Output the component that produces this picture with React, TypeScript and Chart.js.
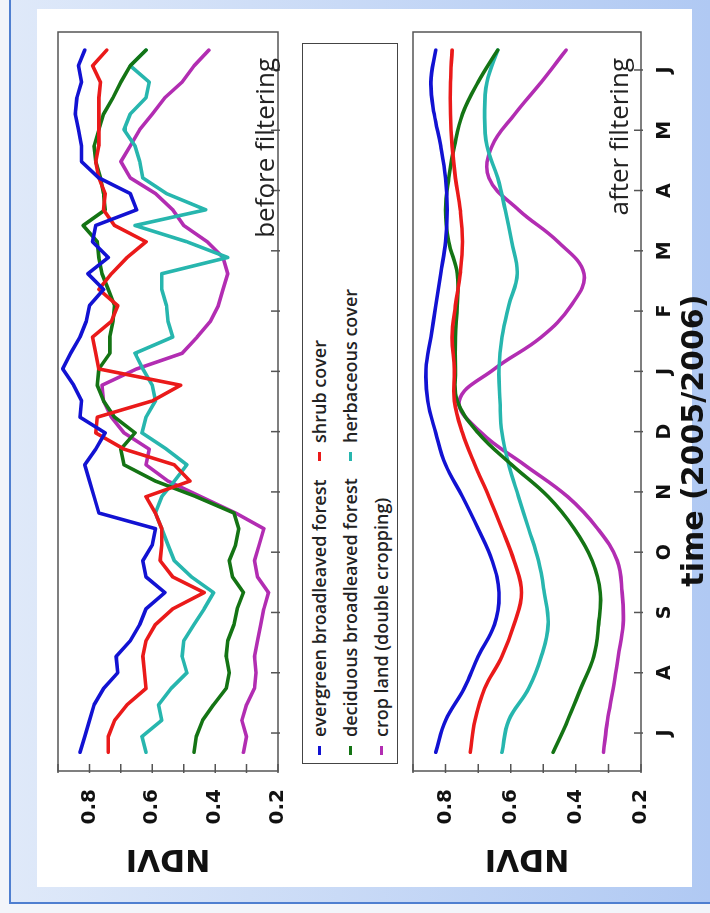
import React, { useEffect, useRef } from 'react';
import { Chart, registerables } from 'chart.js';

Chart.register(...registerables);

// time axis in months from the first July tick (J A S O N D J F M A M J)
const timeRaw = [
  -0.32, -0.06, 0.21, 0.47, 0.74, 1.0, 1.27, 1.53, 1.8, 2.06, 2.33, 2.59, 2.86, 3.12, 3.39,
  3.65, 3.92, 4.18, 4.45, 4.71, 4.98, 5.24, 5.51, 5.77, 6.04, 6.3, 6.57, 6.83, 7.09, 7.36,
  7.62, 7.89, 8.15, 8.42, 8.68, 8.95, 9.21, 9.48, 9.74, 10.01, 10.27, 10.54, 10.8, 11.07, 11.33,
];
const timeSmooth = [
  -0.32, 0.21, 0.74, 1.27, 1.8, 2.33, 2.86, 3.39, 3.92, 4.45, 4.98, 5.51, 6.04, 6.57, 7.09,
  7.62, 8.15, 8.68, 9.21, 9.74, 10.27, 10.8, 11.33,
];
const monthTicks = [0, 1, 2, 3, 4, 5, 6, 7, 8, 9, 10, 11];
const monthLabels = ['J', 'A', 'S', 'O', 'N', 'D', 'J', 'F', 'M', 'A', 'M', 'J'];
const ndviTicks = [0.2, 0.3, 0.4, 0.5, 0.6, 0.7, 0.8, 0.9];
const ndviLabels = ['0.2', '', '0.4', '', '0.6', '', '0.8', ''];
const timeTitle = 'time (2005/2006)';

const seriesNames = [
  'evergreen broadleaved forest',
  'shrub cover',
  'deciduous broadleaved forest',
  'herbaceous cover',
  'crop land (double cropping)',
];
const seriesColors = ['#1212d2', '#ea1a1a', '#147414', '#27b6ae', '#b22db2'];

// before filtering
const rawEvergreen = [
  0.83, 0.815, 0.8, 0.785, 0.755, 0.71, 0.715, 0.67, 0.64, 0.62, 0.56, 0.62, 0.63, 0.6, 0.59,
  0.77, 0.785, 0.8, 0.815, 0.78, 0.75, 0.83, 0.825, 0.85, 0.885, 0.86, 0.83, 0.81, 0.8, 0.755,
  0.805, 0.74, 0.79, 0.78, 0.65, 0.67, 0.77, 0.825, 0.825, 0.835, 0.845, 0.84, 0.825, 0.835, 0.815,
];
const rawShrub = [
  0.74, 0.74, 0.72, 0.68, 0.62, 0.625, 0.63, 0.62, 0.59, 0.535, 0.435, 0.535, 0.575, 0.57, 0.57,
  0.59, 0.62, 0.48, 0.53, 0.69, 0.78, 0.775, 0.6, 0.51, 0.77, 0.78, 0.79, 0.73, 0.71, 0.77,
  0.73, 0.68, 0.62, 0.72, 0.755, 0.75, 0.77, 0.78, 0.77, 0.77, 0.77, 0.77, 0.765, 0.79, 0.745,
];
const rawDeciduous = [
  0.467, 0.46, 0.44, 0.405, 0.365, 0.355, 0.365, 0.36, 0.34, 0.33, 0.31, 0.345, 0.355, 0.335, 0.325,
  0.34, 0.46, 0.59, 0.69, 0.7, 0.655, 0.72, 0.755, 0.775, 0.77, 0.735, 0.735, 0.725, 0.72, 0.74,
  0.76, 0.77, 0.775, 0.82, 0.75, 0.755, 0.765, 0.78, 0.785, 0.77, 0.755, 0.725, 0.7, 0.67, 0.62,
];
const rawHerbaceous = [
  0.62, 0.633, 0.57, 0.58, 0.54, 0.49, 0.505, 0.5, 0.467, 0.435, 0.405, 0.475, 0.53, 0.55, 0.57,
  0.59, 0.57, 0.53, 0.49, 0.555, 0.633, 0.62, 0.59, 0.6, 0.63, 0.655, 0.535, 0.55, 0.555, 0.57,
  0.57, 0.36, 0.49, 0.655, 0.43, 0.555, 0.63, 0.64, 0.655, 0.69, 0.67, 0.62, 0.61, 0.67, 0.62,
];
const rawCrop = [
  0.31, 0.3, 0.315, 0.3, 0.275, 0.27, 0.275, 0.265, 0.255, 0.245, 0.23, 0.265, 0.275, 0.26, 0.245,
  0.335, 0.445, 0.55, 0.62, 0.61, 0.69, 0.73, 0.755, 0.76, 0.65, 0.505, 0.457, 0.415, 0.39, 0.375,
  0.36, 0.375, 0.425, 0.5, 0.535, 0.59, 0.67, 0.7, 0.67, 0.64, 0.6, 0.56, 0.505, 0.467, 0.42,
];

// after filtering
const smoothEvergreen = [
  0.83, 0.8, 0.743, 0.7, 0.65, 0.636, 0.657, 0.7, 0.748, 0.8, 0.83, 0.855, 0.86, 0.845, 0.83,
  0.815, 0.8, 0.795, 0.8, 0.815, 0.835, 0.845, 0.83,
];
const smoothShrub = [
  0.724, 0.71, 0.68, 0.627, 0.59, 0.567, 0.59, 0.627, 0.667, 0.71, 0.748, 0.773, 0.773, 0.78, 0.77,
  0.755, 0.748, 0.755, 0.77, 0.78, 0.785, 0.785, 0.78,
];
const smoothDeciduous = [
  0.47, 0.425, 0.385, 0.345, 0.33, 0.325, 0.35, 0.405, 0.485, 0.597, 0.7, 0.764, 0.77, 0.77, 0.764,
  0.764, 0.79, 0.8, 0.79, 0.773, 0.748, 0.7, 0.64,
];
const smoothHerbaceous = [
  0.627, 0.606, 0.545, 0.506, 0.485, 0.497, 0.515, 0.545, 0.576, 0.606, 0.627, 0.633, 0.636, 0.627, 0.606,
  0.58, 0.597, 0.617, 0.64, 0.673, 0.68, 0.673, 0.64,
];
const smoothCrop = [
  0.315, 0.303, 0.285, 0.27, 0.255, 0.258, 0.273, 0.333, 0.425, 0.558, 0.69, 0.758, 0.65, 0.506, 0.415,
  0.375, 0.455, 0.576, 0.667, 0.657, 0.587, 0.506, 0.43,
];

const AXIS_FONT = 'DejaVu Sans';
const TEXT_FONT = 'Open Sans';
const TITLE_CENTER_MONTH = 4.85;

const framePlugin = {
  id: 'frameTicks',
  afterDraw(chart: any, _args: any, opts: any) {
    const { ctx, chartArea, scales } = chart;
    const { left, right, top, bottom } = chartArea;
    ctx.save();
    ctx.strokeStyle = '#555';
    ctx.lineWidth = 1.5;
    ctx.strokeRect(left, top, right - left, bottom - top);
    ctx.beginPath();
    scales.x.ticks.forEach((t: any) => {
      const p = scales.x.getPixelForValue(t.value);
      ctx.moveTo(p, bottom + 2);
      ctx.lineTo(p, bottom - 7);
    });
    scales.y.ticks.forEach((t: any) => {
      const p = scales.y.getPixelForValue(t.value);
      ctx.moveTo(left - 2, p);
      ctx.lineTo(left + 7, p);
    });
    ctx.stroke();
    if (opts && opts.title) {
      ctx.fillStyle = '#111';
      ctx.font = `bold 30px "${AXIS_FONT}"`;
      ctx.textAlign = 'center';
      ctx.textBaseline = 'middle';
      ctx.fillText(opts.title, scales.x.getPixelForValue(TITLE_CENTER_MONTH), scales.x.bottom - 15);
    }
    ctx.restore();
  },
};

function buildConfig(
  times: number[],
  series: number[][],
  smooth: boolean,
  withXLabels: boolean,
  padTop: number,
  xHeight: number
): any {
  return {
    type: 'line',
    data: {
      datasets: series.map((vals, k) => ({
        label: seriesNames[k],
        data: times.map((t, i) => ({ x: t, y: vals[i] })),
        borderColor: seriesColors[k],
        borderWidth: 3.6,
        pointRadius: 0,
        tension: smooth ? 0.4 : 0,
        fill: false,
        borderJoinStyle: 'round',
        borderCapStyle: 'round',
      })),
    },
    options: {
      responsive: false,
      animation: false,
      devicePixelRatio: 1,
      layout: { padding: { top: padTop, right: 32, left: 0, bottom: 0 } },
      plugins: {
        legend: { display: false },
        tooltip: { enabled: false },
        frameTicks: { title: withXLabels ? timeTitle : '' },
      },
      scales: {
        x: {
          type: 'linear',
          min: -0.63,
          max: 11.63,
          grid: { display: false },
          border: { display: false },
          afterBuildTicks: (s: any) => {
            s.ticks = monthTicks.map((v) => ({ value: v }));
          },
          ticks: {
            display: withXLabels,
            autoSkip: false,
            maxRotation: 0,
            padding: 5,
            color: '#111',
            font: { family: AXIS_FONT, size: 19, weight: 'bold' },
            callback: (_v: any, i: number) => monthLabels[i],
          },
          title: { display: false },
          afterFit: (s: any) => {
            s.height = xHeight;
          },
        },
        y: {
          type: 'linear',
          min: 0.2,
          max: 0.9,
          grid: { display: false },
          border: { display: false },
          afterBuildTicks: (s: any) => {
            s.ticks = ndviTicks.map((v) => ({ value: v }));
          },
          ticks: {
            autoSkip: false,
            padding: 10,
            color: '#111',
            font: { family: AXIS_FONT, size: 20, weight: 'bold' },
            callback: (_v: any, i: number) => ndviLabels[i],
          },
          title: {
            display: true,
            text: 'NDVI',
            color: '#111',
            font: { family: AXIS_FONT, size: 30, weight: 'bold' },
            padding: { top: 37, bottom: 0 },
          },
          afterFit: (s: any) => {
            s.width = 142;
          },
        },
      },
    },
    plugins: [framePlugin],
  };
}

const legendRows = [
  { k: 0, col: 0, row: 0 },
  { k: 1, col: 1, row: 0 },
  { k: 2, col: 0, row: 1 },
  { k: 3, col: 1, row: 1 },
  { k: 4, col: 0, row: 2 },
];

export default function App() {
  const c1 = useRef<HTMLCanvasElement>(null);
  const c2 = useRef<HTMLCanvasElement>(null);

  useEffect(() => {
    const ch1 = new Chart(
      c1.current as HTMLCanvasElement,
      buildConfig(timeRaw, [rawEvergreen, rawShrub, rawDeciduous, rawHerbaceous, rawCrop], false, false, 58, 12)
    );
    const ch2 = new Chart(
      c2.current as HTMLCanvasElement,
      buildConfig(
        timeSmooth,
        [smoothEvergreen, smoothShrub, smoothDeciduous, smoothHerbaceous, smoothCrop],
        true,
        true,
        23,
        69
      )
    );
    return () => {
      ch1.destroy();
      ch2.destroy();
    };
  }, []);

  return (
    <div
      style={{
        position: 'fixed',
        left: 0,
        top: 0,
        width: 710,
        height: 913,
        overflow: 'hidden',
        background: '#f2f5fa',
      }}
    >
      <div
        style={{
          position: 'absolute',
          left: 9,
          top: 0,
          width: 701,
          height: 904,
          boxSizing: 'border-box',
          borderLeft: '2px solid #4f7fd0',
          borderBottom: '2px solid #4f7fd0',
          background: 'linear-gradient(to right, #dfe9f9, #b0c9f3)',
        }}
      />
      <div
        style={{
          position: 'absolute',
          left: 37,
          top: 9,
          width: 655,
          height: 878,
          background: '#ffffff',
        }}
      />
      <div
        style={{
          position: 'absolute',
          left: 0,
          top: 0,
          width: 913,
          height: 710,
          transformOrigin: '0 0',
          transform: 'translateY(913px) rotate(-90deg)',
        }}
      >
        <canvas ref={c1} width={913} height={300} style={{ position: 'absolute', left: 0, top: 0 }} />
        <div
          style={{
            position: 'absolute',
            left: 149,
            top: 302,
            width: 721,
            height: 96,
            boxSizing: 'border-box',
            border: '1.5px solid #444',
            background: '#fff',
          }}
        >
          {legendRows.map((it) => (
            <div
              key={it.k}
              style={{
                position: 'absolute',
                left: it.col === 0 ? 8 : 302,
                top: 3 + it.row * 31,
                height: 26,
                display: 'flex',
                alignItems: 'center',
                whiteSpace: 'nowrap',
              }}
            >
              <span
                style={{
                  display: 'inline-block',
                  width: 9,
                  height: 3,
                  background: seriesColors[it.k],
                  marginRight: 9,
                }}
              />
              <span
                style={{
                  fontFamily: TEXT_FONT,
                  fontWeight: 600,
                  fontSize: 18,
                  color: '#222',
                }}
              >
                {seriesNames[it.k]}
              </span>
            </div>
          ))}
        </div>
        <canvas ref={c2} width={913} height={320} style={{ position: 'absolute', left: 0, top: 390 }} />
        <div
          style={{
            position: 'absolute',
            right: 58,
            top: 248,
            height: 32,
            lineHeight: '32px',
            fontFamily: TEXT_FONT,
            fontSize: 26,
            color: '#222',
            whiteSpace: 'nowrap',
          }}
        >
          before filtering
        </div>
        <div
          style={{
            position: 'absolute',
            right: 58,
            top: 602,
            height: 32,
            lineHeight: '32px',
            fontFamily: TEXT_FONT,
            fontSize: 26,
            color: '#222',
            whiteSpace: 'nowrap',
          }}
        >
          after filtering
        </div>
      </div>
    </div>
  );
}
